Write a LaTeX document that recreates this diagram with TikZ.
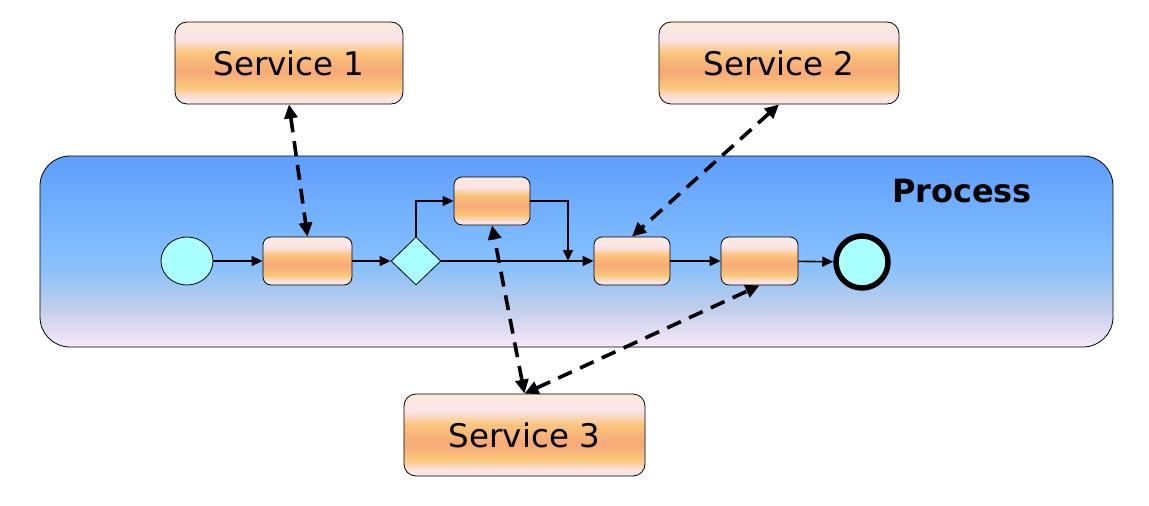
\documentclass[tikz,border=0pt]{standalone}
\usepackage{fontspec}
\setmainfont{DejaVu Sans}
\usetikzlibrary{arrows.meta,shapes.geometric}
\definecolor{cyanfill}{RGB}{170,255,255}
\pgfdeclareverticalshading{svcshade}{100bp}{%
rgb(0bp)=(0.988,0.91,0.847);
rgb(25bp)=(0.988,0.91,0.847);
rgb(28.5bp)=(0.988,0.886,0.902);
rgb(35bp)=(0.976,0.784,0.478);
rgb(45bp)=(0.973,0.659,0.471);
rgb(56bp)=(0.976,0.769,0.478);
rgb(65bp)=(0.988,0.894,0.925);
rgb(75bp)=(0.988,0.922,0.843);
rgb(100bp)=(0.988,0.922,0.843)}
\pgfdeclareverticalshading{procshade}{100bp}{%
rgb(0bp)=(0.973,0.91,0.973);
rgb(25bp)=(0.973,0.91,0.973);
rgb(35bp)=(0.76,0.81,0.92);
rgb(45bp)=(0.55,0.76,0.98);
rgb(55bp)=(0.48,0.72,1.0);
rgb(75bp)=(0.37,0.62,0.99);
rgb(100bp)=(0.37,0.62,0.99)}
\tikzset{
  svc/.style={draw=black, line width=0.8pt, rounded corners=12pt, shading=svcshade,
    minimum width=#1, minimum height=82pt, inner sep=0pt, font=\fontsize{32.5}{38}\selectfont},
  task/.style={draw=black, line width=0.8pt, rounded corners=8pt, shading=svcshade,
    minimum width=#1, minimum height=48pt, inner sep=0pt},
  flow/.style={line width=1.6pt, -{Triangle[length=11pt,width=10pt]}},
  link/.style={line width=3.6pt, dash pattern=on 15pt off 9pt,
    {Triangle[length=14pt,width=13pt]}-{Triangle[length=14pt,width=13pt]}},
}
\begin{document}
\begin{tikzpicture}[x=1pt,y=-1pt]
\useasboundingbox (0,0) rectangle (1149,506);
% process pool
\node[draw=black, line width=0.8pt, rounded corners=30pt, shading=procshade,
  minimum width=1073pt, minimum height=191pt, inner sep=0pt] (proc) at (576.5,251.5) {};
\node[font=\bfseries\fontsize{32}{38}\selectfont] (plabel) at (962,191) {Process};
% services
\node[svc=228pt] (s1) at (289,63) {Service 1};
\node[svc=240pt] (s2) at (779,63) {Service 2};
\node[svc=241pt] (s3) at (524.5,435) {Service 3};
% flow elements
\node[draw=black, line width=0.8pt, fill=cyanfill, ellipse, minimum width=52pt, minimum height=48pt, inner sep=0pt] (start) at (187,261) {};
\node[task=89pt] (t1) at (307.5,261) {};
\node[draw=black, line width=0.8pt, fill=cyanfill, diamond, minimum width=50pt, minimum height=48pt, inner sep=0pt, aspect=1.04] (gw) at (416,261) {};
\node[task=76pt] (t2) at (492,201) {};
\node[task=76pt] (t3) at (632,261) {};
\node[task=77pt] (t4) at (759.5,261) {};
\node[draw=black, line width=5.5pt, fill=cyanfill, circle, minimum size=52pt, inner sep=0pt] (end) at (862,262) {};
\coordinate (join) at (568,261);
% sequence flows
\draw[flow] (start) -- (t1);
\draw[flow] (t1) -- (gw);
\draw[flow] (gw.north) |- (t2.west);
\draw[flow] (t2.east) -| (join);
\draw[flow] (gw.east) -- (t3.west);
\draw[flow] (t3) -- (t4);
\draw[flow] (t4) -- (end);
% service links
\draw[link] (s1.south) -- (t1.north);
\draw[link] (s2.south) -- (t3.north);
\draw[link] (s3.north) -- (t2.south);
\draw[link] (s3.north) -- (t4.south);
\end{tikzpicture}
\end{document}
